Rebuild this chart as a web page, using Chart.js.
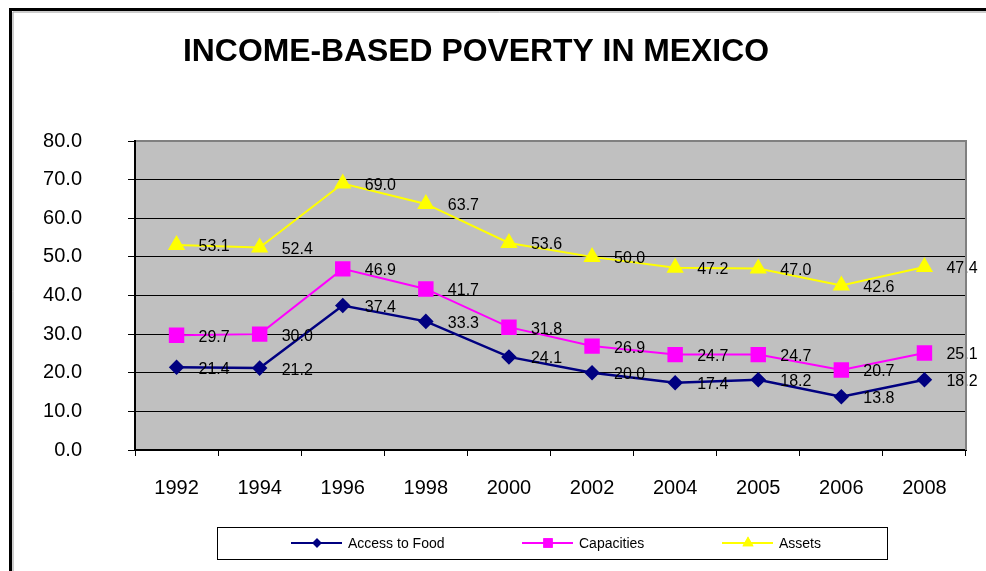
<!DOCTYPE html>
<html>
<head>
<meta charset="utf-8">
<script src="https://cdn.jsdelivr.net/npm/chart.js@4.4.1/dist/chart.umd.min.js"></script>
<style>
  html, body { margin: 0; padding: 0; background: #fff; }
  #wrap { width: 986px; height: 571px; position: relative; }
</style>
</head>
<body>
<div id="wrap"><canvas id="c" width="986" height="571"></canvas></div>
<script>
const chartTitle = "INCOME-BASED POVERTY IN MEXICO";
const years = ["1992", "1994", "1996", "1998", "2000", "2002", "2004", "2005", "2006", "2008"];
const accessToFood = [21.4, 21.2, 37.4, 33.3, 24.1, 20.0, 17.4, 18.2, 13.8, 18.2];
const capacities = [29.7, 30.0, 46.9, 41.7, 31.8, 26.9, 24.7, 24.7, 20.7, 25.1];
const assets = [53.1, 52.4, 69.0, 63.7, 53.6, 50.0, 47.2, 47.0, 42.6, 47.4];
const seriesNames = ["Access to Food", "Capacities", "Assets"];
const yTicks = [0, 10, 20, 30, 40, 50, 60, 70, 80];

const FONT = "'Liberation Sans', Arial, sans-serif";

const framePlugin = {
  id: 'frame',
  beforeDraw(chart) {
    const ctx = chart.ctx, a = chart.chartArea;
    ctx.save();
    ctx.fillStyle = '#ffffff';
    ctx.fillRect(0, 0, chart.width, chart.height);
    ctx.fillStyle = '#c0c0c0';
    ctx.fillRect(a.left, a.top, a.right - a.left, a.bottom - a.top);
    ctx.restore();
  },
  afterDraw(chart) {
    const ctx = chart.ctx, a = chart.chartArea;
    ctx.save();
    // plot area top/right border (grey)
    ctx.strokeStyle = '#808080';
    ctx.lineWidth = 2;
    ctx.beginPath();
    ctx.moveTo(a.left + 1, a.top);
    ctx.lineTo(a.right, a.top);
    ctx.lineTo(a.right, a.bottom);
    ctx.stroke();
    // outer frame
    ctx.strokeStyle = '#000';
    ctx.lineWidth = 3;
    ctx.strokeRect(10.5, 9.5, chart.width + 20, chart.height + 20);
    ctx.strokeStyle = '#999';
    ctx.lineWidth = 1;
    ctx.beginPath();
    ctx.moveTo(13, 12); ctx.lineTo(chart.width, 12);
    ctx.moveTo(13, 12); ctx.lineTo(13, chart.height);
    ctx.stroke();
    // title
    ctx.fillStyle = '#000';
    ctx.font = 'bold 31px ' + FONT;
    ctx.textAlign = 'center';
    ctx.textBaseline = 'middle';
    const w = ctx.measureText(chartTitle).width;
    ctx.translate(476, 52);
    ctx.scale(586 / w, 1);
    ctx.fillText(chartTitle, 0, 0);
    ctx.restore();

    // legend
    ctx.save();
    ctx.fillStyle = '#fff';
    ctx.fillRect(217, 527, 670, 32);
    ctx.strokeStyle = '#000';
    ctx.lineWidth = 1;
    ctx.strokeRect(217.5, 527.5, 670, 32);
    const xs = [291, 522, 722];
    const ly = 543;
    ctx.font = '14px ' + FONT;
    ctx.textBaseline = 'middle';
    ctx.textAlign = 'left';
    chart.data.datasets.forEach((ds, i) => {
      const x0 = xs[i];
      ctx.strokeStyle = ds.borderColor;
      ctx.lineWidth = 2;
      ctx.beginPath();
      ctx.moveTo(x0, ly); ctx.lineTo(x0 + 51, ly);
      ctx.stroke();
      Chart.helpers.drawPoint(ctx, {
        pointStyle: ds.pointStyle,
        radius: ds.pointRadius * 0.55,
        rotation: 0,
        borderWidth: 1
      }, x0 + 26, ly);
      ctx.fillStyle = ds.pointBackgroundColor;
      ctx.strokeStyle = ds.borderColor;
      ctx.fill();
      ctx.stroke();
      ctx.fillStyle = '#000';
      ctx.fillText(ds.label, x0 + 57, ly + 1);
    });
    ctx.restore();
  }
};

const labelPlugin = {
  id: 'valueLabels',
  afterDatasetsDraw(chart) {
    const ctx = chart.ctx;
    ctx.save();
    ctx.font = '16px ' + FONT;
    ctx.fillStyle = '#000';
    ctx.textAlign = 'left';
    ctx.textBaseline = 'middle';
    chart.data.datasets.forEach((ds, i) => {
      const meta = chart.getDatasetMeta(i);
      meta.data.forEach((pt, j) => {
        ctx.fillText(ds.data[j].toFixed(1), pt.x + 22, pt.y + 2);
      });
    });
    ctx.restore();
  }
};

function mkDs(label, data, color, style, radius, lw) {
  return {
    label, data,
    borderColor: color,
    backgroundColor: color,
    pointBackgroundColor: color,
    pointBorderColor: color,
    pointStyle: style,
    pointRadius: radius,
    pointHoverRadius: radius,
    borderWidth: lw,
    tension: 0,
    fill: false
  };
}

new Chart(document.getElementById('c'), {
  type: 'line',
  data: {
    labels: years,
    datasets: [
      mkDs(seriesNames[0], accessToFood, '#000080', 'rectRot', 6, 2.5),
      mkDs(seriesNames[1], capacities, '#ff00ff', 'rect', 9.5, 2),
      mkDs(seriesNames[2], assets, '#ffff00', 'triangle', 8, 2)
    ]
  },
  options: {
    responsive: false,
    animation: false,
    devicePixelRatio: 1,
    layout: { padding: { left: 0, top: 141, right: 20, bottom: 0 } },
    plugins: { legend: { display: false }, title: { display: false }, tooltip: { enabled: false } },
    scales: {
      x: {
        type: 'category',
        offset: true,
        afterFit(s) { s.height = 121; },
        grid: { drawOnChartArea: false, drawTicks: true, tickLength: 6, color: '#000', offset: true },
        border: { display: true, color: '#000', width: 2 },
        ticks: { color: '#000', font: { family: FONT, size: 20 }, padding: 20, maxRotation: 0, autoSkip: false }
      },
      y: {
        min: 0, max: 80,
        afterFit(s) { s.width = 135; },
        afterBuildTicks(s) { s.ticks = yTicks.map(v => ({ value: v })); },
        grid: { color: '#000', lineWidth: 1, drawTicks: true, tickLength: 7 },
        border: { display: true, color: '#000', width: 2 },
        ticks: { color: '#000', font: { family: FONT, size: 20 }, padding: 46, callback: v => Number(v).toFixed(1) }
      }
    }
  },
  plugins: [framePlugin, labelPlugin]
});
</script>
</body>
</html>
